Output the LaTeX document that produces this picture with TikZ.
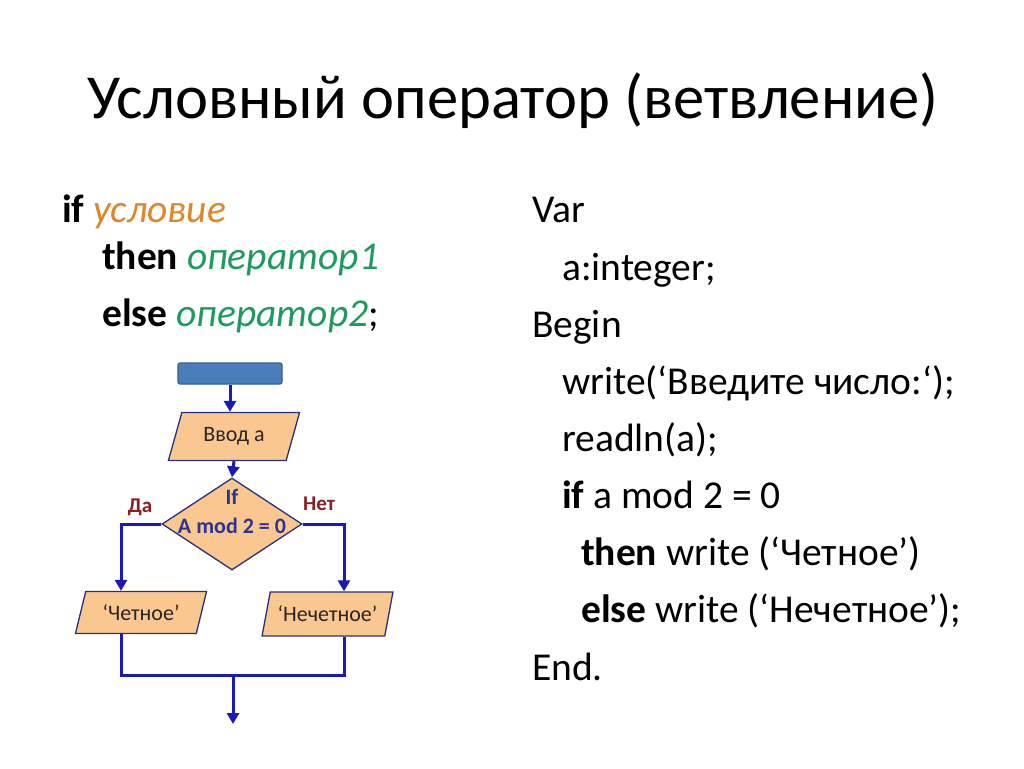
\documentclass[tikz,border=0pt]{standalone}
\usepackage{fontspec}
\setmainfont{Carlito}
\usetikzlibrary{shapes.geometric,arrows.meta}
\definecolor{flow}{HTML}{1A1AB8}
\definecolor{edge}{HTML}{26317A}
\definecolor{peach}{HTML}{FAC791}
\definecolor{boxblue}{HTML}{4A7EBB}
\definecolor{boxedge}{HTML}{3A5F8F}
\definecolor{condc}{HTML}{E0862A}
\definecolor{opc}{HTML}{1E9A5E}
\definecolor{diamtext}{HTML}{2A3590}
\definecolor{labred}{HTML}{8B1E1E}
\tikzset{
  code/.style={anchor=base west,inner sep=0pt,font=\fontsize{39.5}{39.5}\selectfont},
  para/.style={trapezium,trapezium left angle=66,trapezium right angle=114,trapezium stretches=true,
    draw=edge,line width=1.3pt,fill=peach,inner sep=0pt,font=\fontsize{22}{22}\selectfont,text=black!85},
  flowline/.style={draw=flow,line width=3pt},
  flowarrow/.style={flowline,-{Triangle[length=11pt,width=12pt]}},
  dtext/.style={font=\bfseries\fontsize{22}{22}\selectfont,text=diamtext,inner sep=0pt,anchor=base},
  lab/.style={font=\bfseries\fontsize{21}{21}\selectfont,text=labred,inner sep=0pt,anchor=base}
}
\begin{document}
\begin{tikzpicture}[x=1pt,y=-1pt]
\useasboundingbox (0,0) rectangle (1024,768);
\fill[white] (0,0) rectangle (1024,768);
% title
\node[anchor=base,inner sep=0pt,font=\fontsize{62.6}{62.6}\selectfont] (title) at (513,118) {Условный оператор (ветвление)};
% left syntax
\node[code] (s1) at (62,222) {\textbf{if} \textcolor{condc}{\itshape условие}};
\node[code] (s2) at (102,269) {\textbf{then} \textcolor{opc}{\itshape оператор1}};
\node[code] (s3) at (102,326) {\textbf{else} \textcolor{opc}{\itshape оператор2};};
% code
\node[code] (c1) at (532,222) {Var};
\node[code] (c2) at (562,280) {a:integer;};
\node[code] (c3) at (532,337) {Begin};
\node[code] (c4) at (562,394) {write(‘Введите число:‘);};
\node[code] (c5) at (562,451) {readln(a);};
\node[code] (c6) at (562,508) {\textbf{if} a mod 2 = 0};
\node[code] (c7) at (581,565) {\textbf{then} write (‘Четное’)};
\node[code] (c8) at (581,622) {\textbf{else} write (‘Нечетное’);};
\node[code] (c9) at (532,680) {End.};
% flowchart
\node[draw=boxedge,line width=1.2pt,fill=boxblue,rounded corners=2pt,minimum width=104pt,minimum height=21pt,inner sep=0pt] (start) at (230,373.5) {};
\node[para,minimum width=132pt,minimum height=48pt] (in) at (234,436.5) {Ввод а};
\node[diamond,draw=edge,line width=1.3pt,fill=peach,minimum width=140pt,minimum height=92pt,inner sep=0pt] (cond) at (232,524) {};
\node[dtext] (ct1) at (232,504) {If};
\node[dtext] (ct2) at (232,533) {A mod 2 = 0};
\node[para,minimum width=132pt,minimum height=42pt] (yes) at (141,612.5) {‘Четное’};
\node[para,minimum width=131pt,minimum height=44pt] (no) at (327.5,614) {‘Нечетное’};
\node[lab] (da) at (140,512) {Да};
\node[lab] (net) at (319,510) {Нет};
\coordinate (join) at (233,675);
\coordinate (out) at (233,724);
\draw[flowarrow] (start.south) -- (start.south |- in.north);
\draw[flowarrow] (in.south) -- (cond.north);
\draw[flowarrow] (cond.west) -| (yes.north -| 121,0);
\draw[flowarrow] (cond.east) -| (no.north -| 344,0);
\draw[flowline] (yes.south -| 121,0) |- (join) -| (no.south -| 344,0);
\draw[flowarrow] (join) -- (out);
\end{tikzpicture}
\end{document}
